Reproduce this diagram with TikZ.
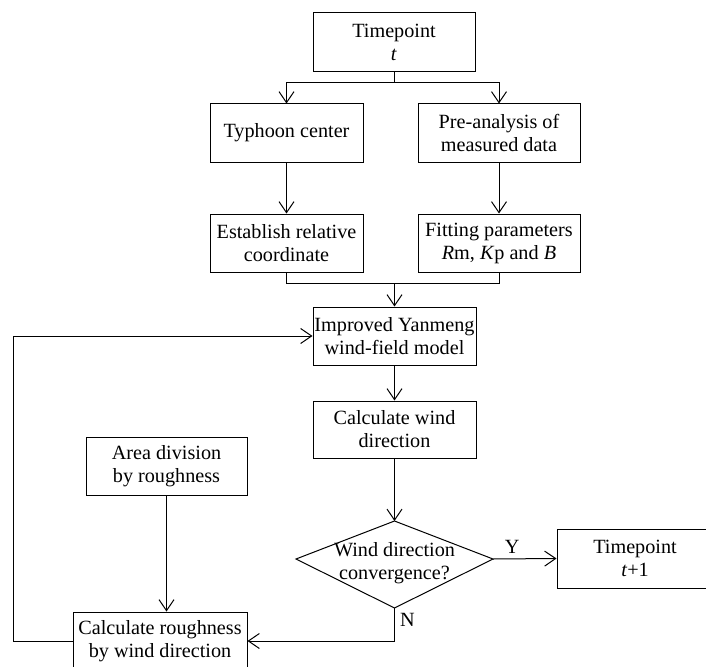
\documentclass[tikz,border=0pt]{standalone}
\usepackage{fontspec}
\setmainfont{Liberation Serif}
\usetikzlibrary{arrows.meta}
\begin{document}
\begin{tikzpicture}[x=1pt,y=-1pt,
  font=\fontsize{20.2}{23}\selectfont,
  box/.style={draw, line width=1pt, align=center, inner sep=0pt},
  arr/.style={-{Straight Barb[length=11pt,width=15pt]}, line width=1pt},
  ln/.style={line width=1pt}]
\useasboundingbox (0,0) rectangle (706,666);

\node[box, minimum width=162pt, minimum height=59pt] (tp) at (394,42.5) {Timepoint\\\textit{t}};
\node[box, minimum width=153pt, minimum height=58pt] (ty) at (286.5,133) {Typhoon center};
\node[box, minimum width=162pt, minimum height=58pt] (pre) at (499,133) {Pre-analysis of\\measured data};
\node[box, minimum width=153pt, minimum height=58pt] (est) at (286.5,243) {Establish relative\\coordinate};
\node[box, minimum width=162pt, minimum height=58pt] (fit) at (499,243) {Fitting parameters\\\textit{R}m, \textit{K}p and \textit{B}};
\node[box, minimum width=163pt, minimum height=58pt] (imp) at (394.5,336) {Improved Yanmeng\\wind-field model};
\node[box, minimum width=163pt, minimum height=57pt] (cal) at (394.5,429.5) {Calculate wind\\direction};
\node[box, minimum width=161pt, minimum height=58pt] (area) at (166.5,466) {Area division\\by roughness};
\node[box, minimum width=174pt, minimum height=58pt] (rough) at (160,641) {Calculate roughness\\by wind direction};
\node[box, minimum width=156pt, minimum height=59pt] (t1) at (635,558.5) {Timepoint\\\textit{t}+1};

% decision diamond
\coordinate (dtop) at (394.5,521);
\coordinate (dright) at (493,559);
\coordinate (dbot) at (394.5,608);
\coordinate (dleft) at (296,559);
\draw[ln] (dtop) -- (dright) -- (dbot) -- (dleft) -- cycle;
\node[align=center, inner sep=0pt] (dtext) at (394.5,563) {Wind direction\\convergence?};

% connectors
\coordinate (s1) at (394,83);
\draw[ln] (tp.south) -- (s1);
\draw[arr] (s1) -| (ty.north);
\draw[arr] (s1) -| (pre.north);
\draw[arr] (ty.south) -- (est.north);
\draw[arr] (pre.south) -- (fit.north);
\coordinate (m) at (394.5,283);
\draw[ln] (est.south) |- (m);
\draw[ln] (fit.south) |- (m);
\draw[arr] (m) -- (imp.north);
\draw[arr] (imp.south) -- (cal.north);
\draw[arr] (cal.south) -- (dtop);
\draw[arr] (dright) -- (t1.west) node[pos=0.3, above=2pt] (ylab) {Y};
\draw[arr] (dbot) |- (rough.east);
\node[anchor=west, inner sep=0pt] (nlab) at (400,620) {N};
\draw[arr] (area.south) -- (area.south |- rough.north);
\coordinate (lp) at (13,641);
\draw[arr] (rough.west) -- (lp) |- (imp.west);
\end{tikzpicture}
\end{document}
